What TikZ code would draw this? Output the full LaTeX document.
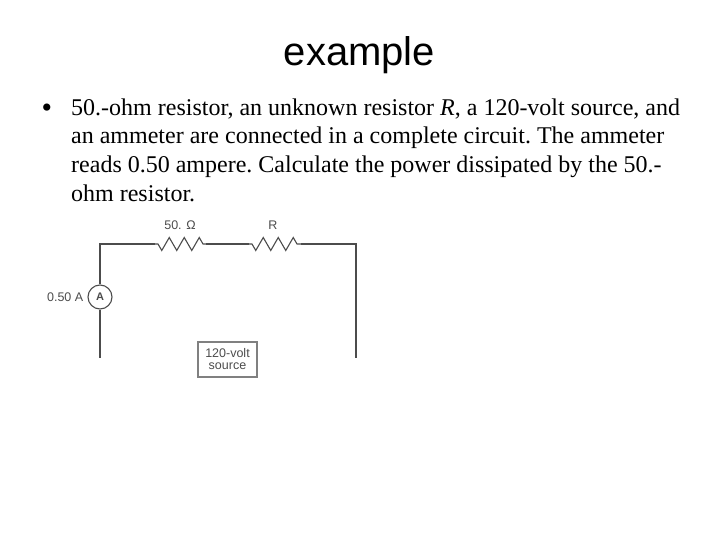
\documentclass[tikz,border=0pt]{standalone}
\usepackage{fontspec}
\setmainfont{Liberation Serif}
\newfontfamily\headfont{Liberation Sans}
\usetikzlibrary{decorations.pathmorphing,positioning}
\definecolor{wirecol}{gray}{0.3}
\tikzset{
  wire/.style={draw=wirecol, line width=1.1pt},
  resist/.style={wire, decorate, decoration={zigzag, segment length=15pt, amplitude=6.5pt, mirror, pre=lineto, pre length=3pt, post=lineto, post length=3pt}},
  lab/.style={font=\headfont\fontsize{12.5}{14}\selectfont, text=black!70, inner sep=0pt}
}
\begin{document}
\begin{tikzpicture}[x=1pt,y=-1pt]
\useasboundingbox (0,0) rectangle (720,540);

\node[font=\headfont\fontsize{40}{44}\selectfont, inner sep=0pt, anchor=base] (title) at (359.5,66) {example};
\node[font=\fontsize{30}{30}\selectfont, inner sep=0pt, anchor=base] (bullet) at (47,118) {•};
\node[font=\fontsize{24}{28.6}\selectfont, inner sep=0pt, anchor=north west, align=left] (body) at (71,98.5) {\frenchspacing 50.-ohm resistor, an unknown resistor \textit{R}, a 120-volt source, and\\\frenchspacing an ammeter are connected in a complete circuit. The ammeter\\\frenchspacing reads 0.50 ampere. Calculate the power dissipated by the 50.-\\ohm resistor.};

\node[circle, wire, minimum size=24pt, inner sep=0pt, font=\headfont\bfseries\fontsize{11}{12}\selectfont, text=black!70] (amm) at (100,297) {A};
\node[lab, left=4pt of amm] (ammlab) {0.50 A};
\node[rectangle, draw=black!50, line width=1.1pt, minimum width=59pt, minimum height=35pt, inner sep=0pt, align=center, font=\headfont\fontsize{12.5}{12}\selectfont, text=black!70] (src) at (227.5,359.5) {120-volt\\source};

\coordinate (tl) at (100,244);
\coordinate (tr) at (356,244);
\coordinate (bl) at (100,358);
\coordinate (br) at (356,358);
\coordinate (r1a) at (155,244);
\coordinate (r1b) at (206,244);
\coordinate (r2a) at (249,244);
\coordinate (r2b) at (301,244);

\node[lab] (r1lab) at (180,225) {50. Ω};
\node[lab] (r2lab) at (273,225) {R};

\draw[wire] (amm) -- (tl) -- (r1a);
\draw[resist] (r1a) -- (r1b);
\draw[wire] (r1b) -- (r2a);
\draw[resist] (r2a) -- (r2b);
\draw[wire] (r2b) -- (tr) -- (br);
\draw[wire] (amm) -- (bl);
\end{tikzpicture}
\end{document}
